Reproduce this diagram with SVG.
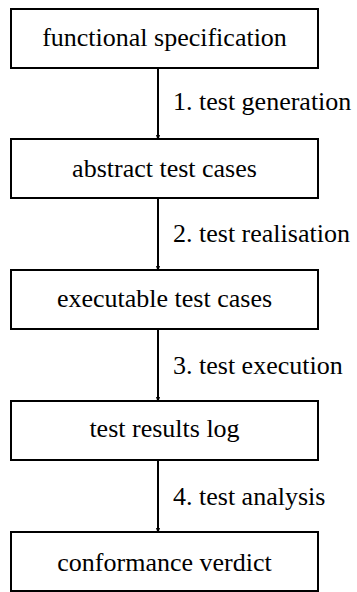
<svg xmlns="http://www.w3.org/2000/svg" width="357" height="592" viewBox="0 0 357 592">
<style>
.box{fill:#fff;stroke:#000;stroke-width:2}
text{font-family:'Liberation Serif','Times New Roman',Times,'DejaVu Serif',serif;font-size:26px;fill:#000}
.c{text-anchor:middle}
.edge{stroke:#000;stroke-width:2;fill:none}
</style>
<defs>
<marker id="ah" markerWidth="6" markerHeight="9" refX="6" refY="3" orient="auto" markerUnits="userSpaceOnUse" viewBox="0 0 9 6">
<path d="M0,0 L9,3 L0,6 z" fill="#000"/>
</marker>
</defs>
<g id="connectors">
<line class="edge" x1="158" y1="68" x2="158" y2="139" marker-end="url(#ah)"/>
<line class="edge" x1="158" y1="198" x2="158" y2="270" marker-end="url(#ah)"/>
<line class="edge" x1="158" y1="329" x2="158" y2="401" marker-end="url(#ah)"/>
<line class="edge" x1="158" y1="460" x2="158" y2="532" marker-end="url(#ah)"/>
<text font-family="Liberation Serif, serif" x="173" y="110">1. test generation</text>
<text font-family="Liberation Serif, serif" x="173" y="242">2. test realisation</text>
<text font-family="Liberation Serif, serif" x="173" y="374">3. test execution</text>
<text font-family="Liberation Serif, serif" x="173" y="505">4. test analysis</text>
</g>
<g id="n1"><rect class="box" x="11" y="9" width="307" height="59"/><text class="c" x="164.5" y="46">functional specification</text></g>
<g id="n2"><rect class="box" x="11" y="139" width="307" height="59"/><text class="c" x="164.5" y="177">abstract test cases</text></g>
<g id="n3"><rect class="box" x="11" y="270" width="307" height="59"/><text class="c" x="164.5" y="307">executable test cases</text></g>
<g id="n4"><rect class="box" x="11" y="401" width="307" height="59"/><text class="c" x="164.5" y="437">test results log</text></g>
<g id="n5"><rect class="box" x="11" y="532" width="307" height="59"/><text class="c" x="164.5" y="571">conformance verdict</text></g>
</svg>
